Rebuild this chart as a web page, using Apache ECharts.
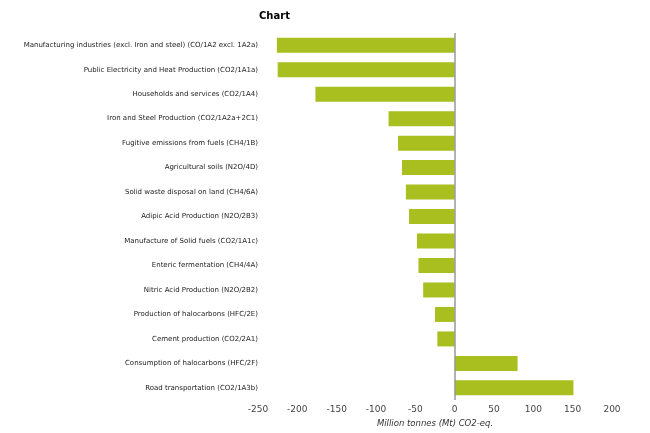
<!DOCTYPE html>
<html>
<head>
<meta charset="utf-8">
<script src="https://cdn.jsdelivr.net/npm/echarts@6/dist/echarts.min.js"></script>
<style>html,body{margin:0;padding:0;background:#fff}#c{width:650px;height:433px}</style>
</head>
<body>
<div id="c"></div>
<script>
const categories = [
  "Manufacturing industries (excl. Iron and steel) (CO/1A2 excl. 1A2a)",
  "Public Electricity and Heat Production (CO2/1A1a)",
  "Households and services (CO2/1A4)",
  "Iron and Steel Production (CO2/1A2a+2C1)",
  "Fugitive emissions from fuels (CH4/1B)",
  "Agricultural soils (N2O/4D)",
  "Solid waste disposal on land (CH4/6A)",
  "Adipic Acid Production (N2O/2B3)",
  "Manufacture of Solid fuels (CO2/1A1c)",
  "Enteric fermentation (CH4/4A)",
  "Nitric Acid Production (N2O/2B2)",
  "Production of halocarbons (HFC/2E)",
  "Cement production (CO2/2A1)",
  "Consumption of halocarbons (HFC/2F)",
  "Road transportation (CO2/1A3b)"
];
const values = [-226, -225, -177, -84, -72, -67, -62, -58, -48, -46, -40, -25, -22, 80, 151];
const axisMin = -250, axisMax = 200, axisStep = 50;

const chart = echarts.init(document.getElementById('c'), null, {renderer: 'canvas'});
chart.setOption({
  animation: false,
  title: {
    text: 'Chart', left: 254, top: 6,
    textStyle: {fontFamily: 'DejaVu Sans', fontSize: 10, fontWeight: 'bold', color: '#000'}
  },
  grid: {left: 258, right: 38, top: 33, bottom: 32, containLabel: false},
  xAxis: {
    type: 'value', min: axisMin, max: axisMax, interval: axisStep,
    axisLine: {show: false}, axisTick: {show: false}, splitLine: {show: false},
    axisLabel: {fontFamily: 'DejaVu Sans', fontSize: 9, color: '#444', margin: 5},
    name: 'Million tonnes (Mt) CO2-eq.', nameLocation: 'middle', nameGap: 18,
    nameTextStyle: {fontFamily: 'DejaVu Sans', fontSize: 8.5, fontStyle: 'italic', color: '#333'}
  },
  yAxis: {
    type: 'category', data: categories, inverse: true,
    axisLine: {show: false, onZero: false}, axisTick: {show: false},
    axisLabel: {fontFamily: 'DejaVu Sans', fontSize: 7, color: '#222', margin: 0}
  },
  series: [{
    type: 'bar', data: values, barWidth: 15,
    itemStyle: {color: '#a9bf1f'},
    markLine: {
      silent: true, symbol: 'none', label: {show: false},
      lineStyle: {color: '#999', type: 'solid', width: 1.5},
      data: [{xAxis: 0}]
    }
  }]
});
</script>
</body>
</html>
